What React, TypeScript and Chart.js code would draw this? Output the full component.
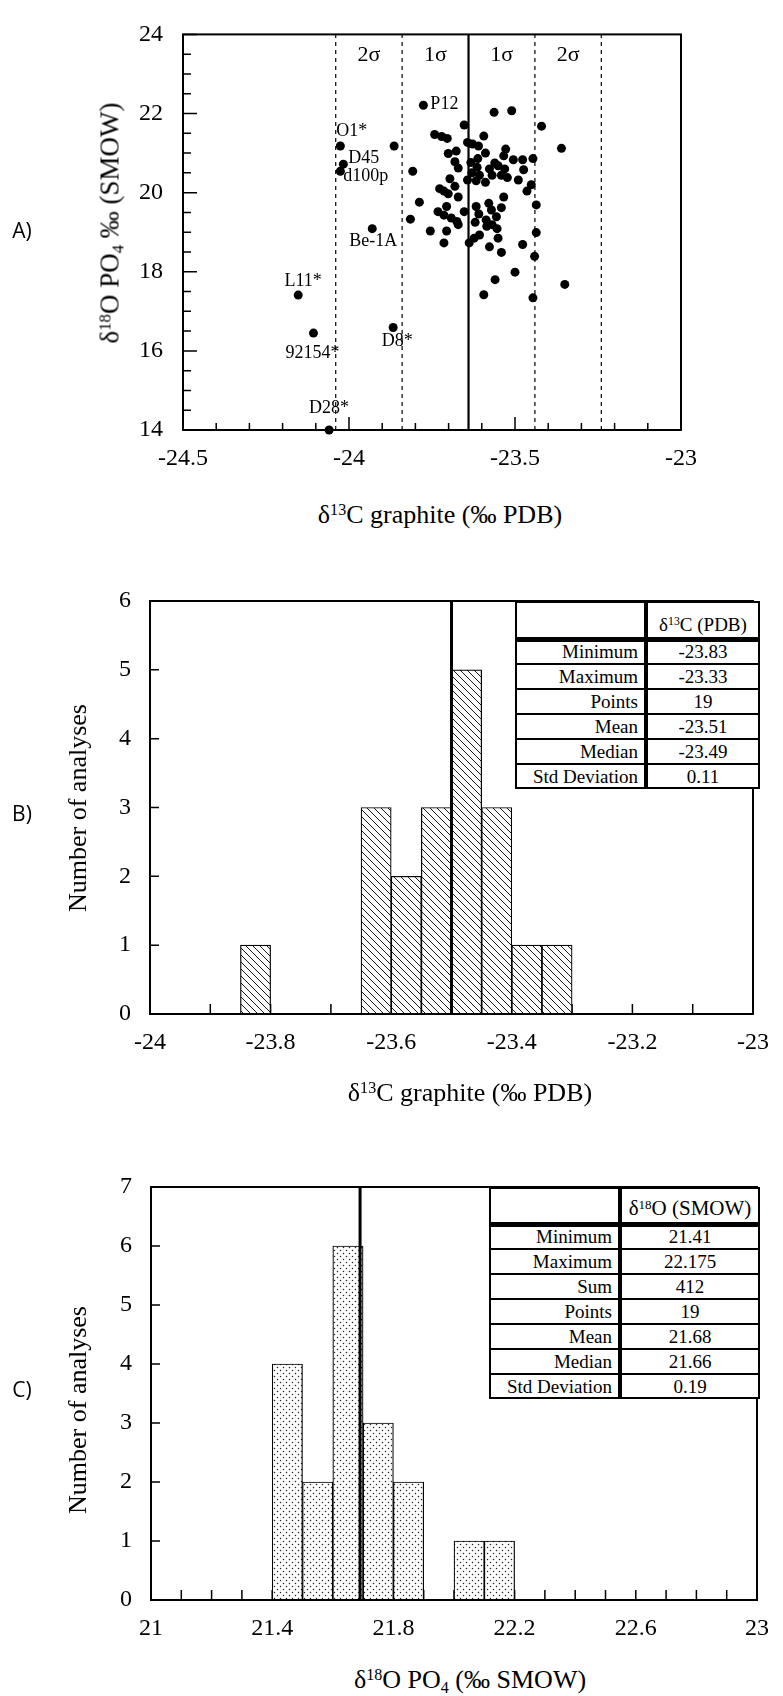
import React, { useEffect, useRef } from "react";
import { Chart, registerables } from "chart.js";

Chart.register(...registerables);

const SERIF = '"Liberation Serif", "Times New Roman", serif';
const SANS = '"Open Sans", "Noto Sans", sans-serif';

// ---------------- Panel A: scatter ----------------
const A_CLUSTER_X = [
  -23.563, -23.51, -23.653, -23.742, -23.721, -23.704, -23.594, -23.864, -23.643, -23.628,
  -23.61, -23.528, -23.677, -23.701, -23.589, -23.534, -23.612, -23.505, -23.477, -23.446,
  -23.681, -23.633, -23.561, -23.551, -23.671, -23.614, -23.577, -23.531, -23.474, -23.808,
  -23.63, -23.607, -23.569, -23.541, -23.523, -23.49, -23.696, -23.643, -23.617, -23.589,
  -23.681, -23.451, -23.727, -23.714, -23.701, -23.464, -23.534, -23.671, -23.788, -23.436,
  -23.617, -23.579, -23.706, -23.541, -23.571, -23.732, -23.653, -23.609, -23.714, -23.556,
  -23.815, -23.692, -23.675, -23.587, -23.62, -23.569, -23.671, -23.585, -23.755, -23.706,
  -23.554, -23.436, -23.607, -23.551, -23.623, -23.638, -23.714, -23.577, -23.477, -23.541,
  -23.441, -23.5, -23.56, -23.594, -23.446, -23.42, -23.36, -23.35,
];
const A_CLUSTER_Y = [
  22.03, 22.07, 21.71, 21.47, 21.42, 21.37, 21.43, 21.18, 21.27, 21.23,
  21.18, 21.1, 21.05, 20.99, 21.0, 20.93, 20.86, 20.83, 20.83, 20.86,
  20.78, 20.76, 20.75, 20.68, 20.62, 20.64, 20.6, 20.6, 20.58, 20.54,
  20.5, 20.44, 20.44, 20.44, 20.38, 20.32, 20.35, 20.32, 20.3, 20.26,
  20.16, 20.2, 20.1, 20.04, 19.97, 20.04, 19.89, 19.89, 19.76, 19.69,
  19.65, 19.73, 19.65, 19.62, 19.56, 19.52, 19.52, 19.46, 19.43, 19.39,
  19.33, 19.36, 19.27, 19.31, 19.25, 19.19, 19.19, 19.15, 19.03, 19.03,
  19.09, 18.99, 18.93, 18.85, 18.85, 18.73, 18.73, 18.63, 18.69, 18.49,
  18.39, 17.99, 17.8, 17.42, 17.34, 21.68, 21.12, 17.68,
];
const A_LABEL_NAMES = ["P12", "O1*", "D45", "d100p", "Be-1A", "L11*", "92154*", "D8*", "D28*"];
const A_LABEL_X = [-23.776, -24.026, -24.017, -24.026, -23.93, -24.153, -24.107, -23.867, -24.06];
const A_LABEL_Y = [22.21, 21.18, 20.72, 20.54, 19.09, 17.41, 16.45, 16.59, 14.0];
const A_SIGMA_LINES = [-24.04, -23.84, -23.64, -23.44, -23.24];
const A_SIGMA_TEXT = ["2σ", "1σ", "1σ", "2σ"];
const A_SIGMA_TEXT_Y = 23.47;
const A_X_TICKS = [-24.5, -24, -23.5, -23];
const A_Y_TICKS = [14, 16, 18, 20, 22, 24];

// label placement (style only, px offsets from the point)
const A_LABEL_STYLE: Record<string, { dx: number; dy: number; align: CanvasTextAlign }> = {
  "P12": { dx: 7, dy: -1, align: "left" },
  "O1*": { dx: -4, dy: -15, align: "left" },
  "D45": { dx: 5, dy: -6, align: "left" },
  "d100p": { dx: 3, dy: 5, align: "left" },
  "Be-1A": { dx: 1, dy: 13, align: "center" },
  "L11*": { dx: 5, dy: -14, align: "center" },
  "92154*": { dx: -1, dy: 20, align: "center" },
  "D8*": { dx: 4, dy: 14, align: "center" },
  "D28*": { dx: 0, dy: -22, align: "center" },
};

// ---------------- Panel B: δ13C histogram ----------------
const B_BIN_START = [-23.85, -23.65, -23.6, -23.55, -23.5, -23.45, -23.4, -23.35];
const B_BIN_WIDTH = 0.05;
const B_COUNTS = [1, 3, 2, 3, 5, 3, 1, 1];
const B_MEAN_LINE = -23.5;
const B_X_TICKS = [-24, -23.8, -23.6, -23.4, -23.2, -23];
const B_Y_TICKS = [0, 1, 2, 3, 4, 5, 6];
const B_TABLE_LABELS = ["Minimum", "Maximum", "Points", "Mean", "Median", "Std Deviation"];
const B_TABLE_VALUES = ["-23.83", "-23.33", "19", "-23.51", "-23.49", "0.11"];

// ---------------- Panel C: δ18O histogram ----------------
const C_BIN_START = [21.4, 21.5, 21.6, 21.7, 21.8, 22.0, 22.1];
const C_BIN_WIDTH = 0.1;
const C_COUNTS = [4, 2, 6, 3, 2, 1, 1];
const C_MEAN_LINE = 21.69;
const C_X_TICKS = [21, 21.4, 21.8, 22.2, 22.6, 23];
const C_Y_TICKS = [0, 1, 2, 3, 4, 5, 6, 7];
const C_TABLE_LABELS = ["Minimum", "Maximum", "Sum", "Points", "Mean", "Median", "Std Deviation"];
const C_TABLE_VALUES = ["21.41", "22.175", "412", "19", "21.68", "21.66", "0.19"];

// ---------------- helpers ----------------
const fmt = (v: number) => String(Math.round(v * 100) / 100);
const ticksFrom = (list: number[]) => (s: any) => {
  s.ticks = list.map((v) => ({ value: v }));
};

function minorValues(s: any, step: number) {
  const out: number[] = [];
  const n = Math.round((s.max - s.min) / step);
  for (let i = 0; i <= n; i++) out.push(s.min + i * step);
  return out;
}

function innerTicksPlugin(spec: {
  xLen: number;
  xMinor?: { step: number; len: number };
  yLen: number;
  yMinor?: { step: number; len: number };
  lw: number;
}) {
  return {
    id: "innerTicks",
    beforeDatasetsDraw(chart: any) {
      const { ctx, chartArea: a, scales } = chart;
      const xs = scales.x;
      const ys = scales.y;
      ctx.save();
      ctx.strokeStyle = "#000";
      ctx.lineWidth = spec.lw;
      ctx.beginPath();
      if (spec.xMinor) {
        for (const v of minorValues(xs, spec.xMinor.step)) {
          const p = xs.getPixelForValue(v);
          ctx.moveTo(p, a.bottom);
          ctx.lineTo(p, a.bottom - spec.xMinor.len);
        }
      }
      for (const t of xs.ticks) {
        const p = xs.getPixelForValue(t.value);
        ctx.moveTo(p, a.bottom);
        ctx.lineTo(p, a.bottom - spec.xLen);
      }
      if (spec.yMinor) {
        for (const v of minorValues(ys, spec.yMinor.step)) {
          const p = ys.getPixelForValue(v);
          ctx.moveTo(a.left, p);
          ctx.lineTo(a.left + spec.yMinor.len, p);
        }
      }
      for (const t of ys.ticks) {
        const p = ys.getPixelForValue(t.value);
        ctx.moveTo(a.left, p);
        ctx.lineTo(a.left + spec.yLen, p);
      }
      ctx.stroke();
      ctx.restore();
    },
  };
}

function framePlugin(lw: number) {
  return {
    id: "frame",
    afterDatasetsDraw(chart: any) {
      const { ctx, chartArea: a } = chart;
      ctx.save();
      ctx.strokeStyle = "#000";
      ctx.lineWidth = lw;
      ctx.strokeRect(a.left, a.top, a.right - a.left, a.bottom - a.top);
      ctx.restore();
    },
  };
}

const pointLabelsPlugin = {
  id: "pointLabels",
  afterDatasetsDraw(chart: any) {
    const { ctx, scales } = chart;
    ctx.save();
    ctx.fillStyle = "#000";
    ctx.font = `18px ${SERIF}`;
    ctx.textBaseline = "middle";
    A_LABEL_NAMES.forEach((name, i) => {
      const st = A_LABEL_STYLE[name];
      const px = scales.x.getPixelForValue(A_LABEL_X[i]);
      const py = scales.y.getPixelForValue(A_LABEL_Y[i]);
      ctx.textAlign = st.align;
      ctx.fillText(name, px + st.dx, py + st.dy);
    });
    ctx.font = `22px ${SERIF}`;
    ctx.textAlign = "center";
    A_SIGMA_TEXT.forEach((t, i) => {
      const mid = (A_SIGMA_LINES[i] + A_SIGMA_LINES[i + 1]) / 2;
      ctx.fillText(t, scales.x.getPixelForValue(mid), scales.y.getPixelForValue(A_SIGMA_TEXT_Y));
    });
    ctx.restore();
  },
};

function tickStyle(padding: number) {
  return {
    font: { size: 24, family: SERIF },
    color: "#000",
    padding,
    maxRotation: 0,
    autoSkip: false,
    callback: (v: any) => fmt(Number(v)),
  };
}

function makeHatch() {
  const c = document.createElement("canvas");
  c.width = 7;
  c.height = 7;
  const g = c.getContext("2d")!;
  g.fillStyle = "#fff";
  g.fillRect(0, 0, 7, 7);
  g.strokeStyle = "#000";
  g.lineWidth = 0.9;
  g.beginPath();
  g.moveTo(-1, -1);
  g.lineTo(8, 8);
  g.moveTo(-1, 6);
  g.lineTo(1, 8);
  g.moveTo(6, -1);
  g.lineTo(8, 1);
  g.stroke();
  return g.createPattern(c, "repeat")!;
}

function makeDots() {
  const c = document.createElement("canvas");
  c.width = 6;
  c.height = 6;
  const g = c.getContext("2d")!;
  g.fillStyle = "#fff";
  g.fillRect(0, 0, 6, 6);
  g.fillStyle = "#222";
  g.beginPath();
  g.arc(1.5, 1.5, 0.75, 0, Math.PI * 2);
  g.arc(4.5, 4.5, 0.75, 0, Math.PI * 2);
  g.fill();
  return g.createPattern(c, "repeat")!;
}

function configA(): any {
  return {
    type: "scatter",
    data: {
      datasets: [
        ...A_SIGMA_LINES.map((x, i) => ({
          data: [
            { x, y: 14 },
            { x, y: 24 },
          ],
          showLine: true,
          borderColor: "#000",
          borderWidth: i === 2 ? 2.2 : 1.2,
          borderDash: i === 2 ? [] : [4, 4],
          pointRadius: 0,
          order: 2,
        })),
        {
          data: A_CLUSTER_X.map((x, i) => ({ x, y: A_CLUSTER_Y[i] })),
          backgroundColor: "#000",
          borderColor: "#000",
          pointRadius: 4.5,
          pointBorderWidth: 0,
          order: 0,
        },
        {
          data: A_LABEL_X.map((x, i) => ({ x, y: A_LABEL_Y[i] })),
          backgroundColor: "#000",
          borderColor: "#000",
          pointRadius: 4.5,
          pointBorderWidth: 0,
          clip: false,
          order: 0,
        },
      ],
    },
    options: {
      responsive: false,
      animation: false,
      devicePixelRatio: 1,
      layout: { padding: { top: 16, right: 102, left: 0, bottom: 0 } },
      plugins: { legend: { display: false }, tooltip: { enabled: false } },
      scales: {
        x: {
          type: "linear",
          min: -24.5,
          max: -23,
          grid: { display: false, drawTicks: false },
          border: { display: false },
          afterBuildTicks: ticksFrom(A_X_TICKS),
          afterFit: (s: any) => {
            s.height = 50;
          },
          ticks: tickStyle(14),
        },
        y: {
          type: "linear",
          min: 14,
          max: 24,
          grid: { display: false, drawTicks: false },
          border: { display: false },
          afterBuildTicks: ticksFrom(A_Y_TICKS),
          afterFit: (s: any) => {
            s.width = 183;
          },
          ticks: tickStyle(20),
        },
      },
    },
    plugins: [
      innerTicksPlugin({ xLen: 13, xMinor: { step: 0.1, len: 7 }, yLen: 14, yMinor: { step: 0.5, len: 8 }, lw: 1.5 }),
      framePlugin(2),
      pointLabelsPlugin,
    ],
  };
}

function histConfig(opts: {
  starts: number[];
  width: number;
  counts: number[];
  meanLine: number;
  xMin: number;
  xMax: number;
  yMax: number;
  xTicks: number[];
  yTicks: number[];
  fill: CanvasPattern;
  padTop: number;
  padLeft: number;
  xAxisH: number;
}): any {
  return {
    type: "bar",
    data: {
      datasets: [
        {
          type: "bar",
          data: opts.starts.map((s, i) => ({ x: s + opts.width / 2, y: opts.counts[i] })),
          backgroundColor: opts.fill,
          borderColor: "#000",
          borderWidth: 1.2,
          borderSkipped: false,
          barPercentage: 1,
          categoryPercentage: 1,
          order: 1,
        },
        {
          type: "line",
          data: [
            { x: opts.meanLine, y: 0 },
            { x: opts.meanLine, y: opts.yMax },
          ],
          borderColor: "#000",
          borderWidth: 3,
          pointRadius: 0,
          order: 0,
        },
      ],
    },
    options: {
      responsive: false,
      animation: false,
      devicePixelRatio: 1,
      layout: { padding: { top: opts.padTop, right: 23, left: 0, bottom: 0 } },
      plugins: { legend: { display: false }, tooltip: { enabled: false } },
      scales: {
        x: {
          type: "linear",
          min: opts.xMin,
          max: opts.xMax,
          offset: false,
          grid: { display: false, drawTicks: false },
          border: { display: false },
          afterBuildTicks: ticksFrom(opts.xTicks),
          afterFit: (s: any) => {
            s.height = opts.xAxisH;
          },
          ticks: tickStyle(14),
        },
        y: {
          type: "linear",
          min: 0,
          max: opts.yMax,
          grid: { display: false, drawTicks: false },
          border: { display: false },
          afterBuildTicks: ticksFrom(opts.yTicks),
          afterFit: (s: any) => {
            s.width = opts.padLeft;
          },
          ticks: tickStyle(19),
        },
      },
    },
    plugins: [
      innerTicksPlugin({ xLen: 10, xMinor: { step: 0.1, len: 10 }, yLen: 9, lw: 1.5 }),
      framePlugin(2),
    ],
  };
}

// ---------------- HTML overlays ----------------
const sup = (t: string) => (
  <span style={{ fontSize: "0.62em", position: "relative", top: "-0.5em" }}>{t}</span>
);
const sub = (t: string) => (
  <span style={{ fontSize: "0.62em", position: "relative", top: "0.3em" }}>{t}</span>
);

function Title(props: { x: number; y: number; size: number; rotate?: boolean; font?: string; children: any }) {
  return (
    <div
      style={{
        position: "absolute",
        left: props.x,
        top: props.y,
        transform: `translate(-50%, -50%)${props.rotate ? " rotate(-90deg)" : ""}`,
        whiteSpace: "nowrap",
        fontFamily: props.font || SERIF,
        fontSize: props.size,
        lineHeight: 1,
        color: "#000",
      }}
    >
      {props.children}
    </div>
  );
}

function StatTable(props: {
  left: number;
  top: number;
  right: number;
  divider: number;
  headerH: number;
  rowH: number;
  header: any;
  headerSize: number;
  labels: string[];
  values: string[];
}) {
  const { left, top, right, divider, headerH, rowH, labels, values } = props;
  const w = right - left;
  const h = headerH + rowH * labels.length;
  const dv = divider - left;
  const lines: any[] = [];
  lines.push(
    <div key="hb" style={{ position: "absolute", left: 0, top: headerH - 2.5, width: w, height: 5, background: "#000" }} />
  );
  for (let i = 1; i < labels.length; i++) {
    lines.push(
      <div
        key={"r" + i}
        style={{ position: "absolute", left: 0, top: headerH + i * rowH - 1, width: w, height: 2, background: "#000" }}
      />
    );
  }
  lines.push(<div key="dv" style={{ position: "absolute", left: dv - 2, top: 0, width: 4, height: h, background: "#000" }} />);
  return (
    <div style={{ position: "absolute", left, top, width: w, height: h, background: "#fff", fontFamily: SERIF, color: "#000" }}>
      <div
        style={{
          position: "absolute",
          left: dv,
          top: 0,
          width: w - dv,
          height: headerH,
          display: "flex",
          alignItems: "flex-end",
          justifyContent: "center",
          paddingBottom: 5,
          boxSizing: "border-box",
          fontSize: props.headerSize,
          lineHeight: 1,
          whiteSpace: "nowrap",
        }}
      >
        <span>{props.header}</span>
      </div>
      {labels.map((l, i) => (
        <React.Fragment key={i}>
          <div
            style={{
              position: "absolute",
              left: 0,
              top: headerH + i * rowH,
              width: dv - 8,
              height: rowH,
              lineHeight: rowH + "px",
              textAlign: "right",
              fontSize: 19,
              whiteSpace: "nowrap",
            }}
          >
            {l}
          </div>
          <div
            style={{
              position: "absolute",
              left: dv,
              top: headerH + i * rowH,
              width: w - dv,
              height: rowH,
              lineHeight: rowH + "px",
              textAlign: "center",
              fontSize: 19,
            }}
          >
            {values[i]}
          </div>
        </React.Fragment>
      ))}
      {lines}
      <div style={{ position: "absolute", left: 0, top: 0, width: w, height: h, border: "2px solid #000", boxSizing: "border-box" }} />
    </div>
  );
}

export default function App() {
  const aRef = useRef<HTMLCanvasElement>(null);
  const bRef = useRef<HTMLCanvasElement>(null);
  const cRef = useRef<HTMLCanvasElement>(null);

  useEffect(() => {
    Chart.defaults.font.family = SERIF;
    Chart.defaults.color = "#000";
    const charts = [
      new Chart(aRef.current!, configA()),
      new Chart(
        bRef.current!,
        histConfig({
          starts: B_BIN_START,
          width: B_BIN_WIDTH,
          counts: B_COUNTS,
          meanLine: B_MEAN_LINE,
          xMin: -24,
          xMax: -23,
          yMax: 6,
          xTicks: B_X_TICKS,
          yTicks: B_Y_TICKS,
          fill: makeHatch(),
          padTop: 41,
          padLeft: 150,
          xAxisH: 76,
        })
      ),
      new Chart(
        cRef.current!,
        histConfig({
          starts: C_BIN_START,
          width: C_BIN_WIDTH,
          counts: C_COUNTS,
          meanLine: C_MEAN_LINE,
          xMin: 21,
          xMax: 23,
          yMax: 7,
          xTicks: C_X_TICKS,
          yTicks: C_Y_TICKS,
          fill: makeDots(),
          padTop: 37,
          padLeft: 151,
          xAxisH: 50,
        })
      ),
    ];
    return () => charts.forEach((c) => c.destroy());
  }, []);

  return (
    <div style={{ position: "absolute", left: 0, top: 0, width: 783, height: 1696, background: "#fff", overflow: "hidden" }}>
      <canvas ref={aRef} width={783} height={480} style={{ position: "absolute", left: 0, top: 0 }} />
      <canvas ref={bRef} width={783} height={530} style={{ position: "absolute", left: 0, top: 560 }} />
      <canvas ref={cRef} width={783} height={500} style={{ position: "absolute", left: 0, top: 1150 }} />

      {/* Panel labels */}
      <Title x={22} y={230} size={21} font={SANS}>A)</Title>
      <Title x={22} y={813} size={21} font={SANS}>B)</Title>
      <Title x={22} y={1389} size={21} font={SANS}>C)</Title>

      {/* Panel A titles */}
      <Title x={110} y={223} size={27} rotate>
        δ{sup("18")}O PO{sub("4")} ‰ (SMOW)
      </Title>
      <Title x={440} y={515} size={26}>
        δ{sup("13")}C graphite (‰ PDB)
      </Title>

      {/* Panel B titles */}
      <Title x={78} y={808} size={26} rotate>
        Number of analyses
      </Title>
      <Title x={470} y={1093} size={26}>
        δ{sup("13")}C graphite (‰ PDB)
      </Title>
      <StatTable
        left={515}
        top={601}
        right={760}
        divider={646}
        headerH={38}
        rowH={25}
        header={<>δ{sup("13")}C (PDB)</>}
        headerSize={19}
        labels={B_TABLE_LABELS}
        values={B_TABLE_VALUES}
      />

      {/* Panel C titles */}
      <Title x={78} y={1410} size={26} rotate>
        Number of analyses
      </Title>
      <Title x={470} y={1680} size={26}>
        δ{sup("18")}O PO{sub("4")} (‰ SMOW)
      </Title>
      <StatTable
        left={489}
        top={1187}
        right={760}
        divider={620}
        headerH={37}
        rowH={25}
        header={<>δ{sup("18")}O (SMOW)</>}
        headerSize={21}
        labels={C_TABLE_LABELS}
        values={C_TABLE_VALUES}
      />
    </div>
  );
}
